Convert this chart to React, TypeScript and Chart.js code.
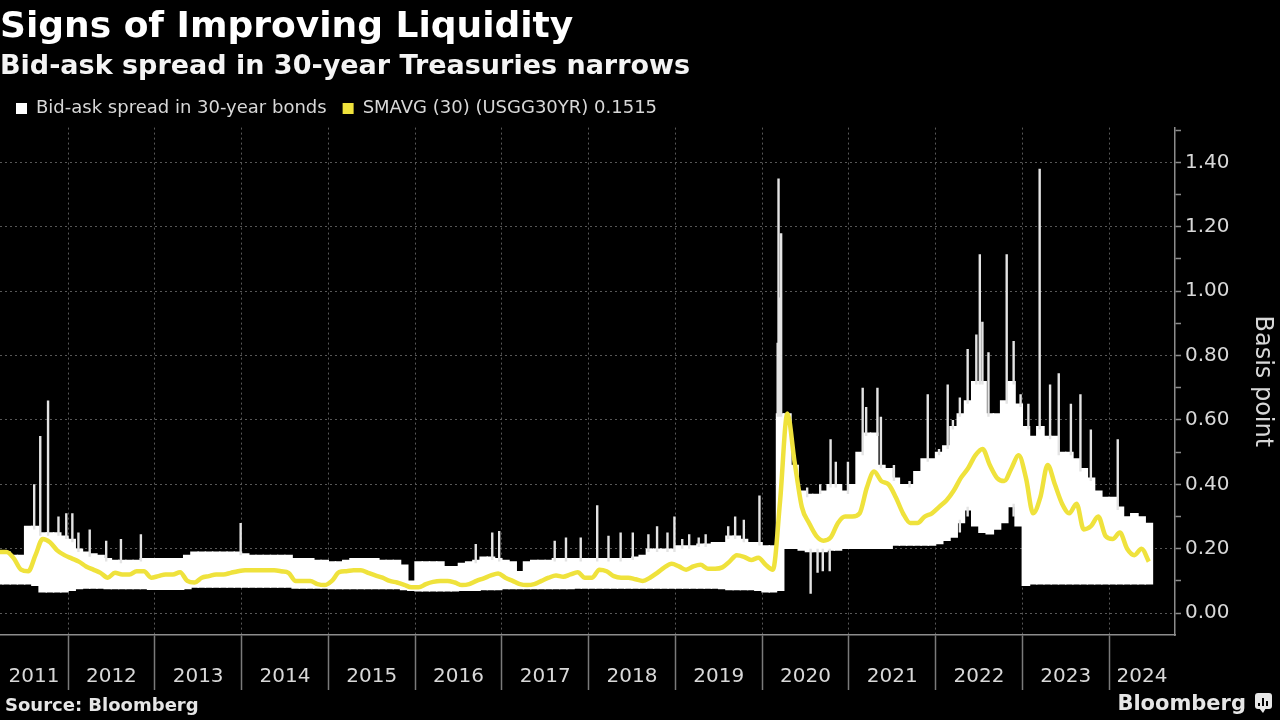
import React, { useEffect, useRef } from 'react';
import { Chart, registerables } from 'chart.js';

Chart.register(...registerables);

// ---------- Texts ----------
const chartTitle = 'Signs of Improving Liquidity';
const chartSubtitle = 'Bid-ask spread in 30-year Treasuries narrows';
const spreadLabel = 'Bid-ask spread in 30-year bonds';
const smaLabel = 'SMAVG (30) (USGG30YR) 0.1515';
const yAxisTitle = 'Basis point';
const sourceText = 'Source: Bloomberg';
const brandText = 'Bloomberg';

// ---------- Axes ----------
const yearLabels = ['2011', '2012', '2013', '2014', '2015', '2016', '2017', '2018', '2019', '2020', '2021', '2022', '2023', '2024'];
const yearBoundaries = [2012, 2013, 2014, 2015, 2016, 2017, 2018, 2019, 2020, 2021, 2022, 2023, 2024];
const yMajorTicks = [0, 0.2, 0.4, 0.6, 0.8, 1.0, 1.2, 1.4];
const yMinorTicks = [0.1, 0.3, 0.5, 0.7, 0.9, 1.1, 1.3, 1.5];
const X_MIN = 2011.216;
const X_MAX = 2024.76;
const Y_MIN = -0.068;
const Y_MAX = 1.508;

// ---------- Monthly series: March 2011 .. June 2024 ----------
const START_YEAR = 2011;
const START_MONTH = 3;

// Daily bid-ask spread, monthly low of the range (basis points)
const spreadLow = [
  // 2011 Mar-Dec
  0.09, 0.09, 0.09, 0.09, 0.09, 0.085, 0.065, 0.065, 0.065, 0.065,
  // 2012
  0.07, 0.075, 0.077, 0.077, 0.077, 0.075, 0.075, 0.075, 0.075, 0.075, 0.075, 0.073,
  // 2013
  0.073, 0.073, 0.073, 0.073, 0.075, 0.08, 0.08, 0.08, 0.08, 0.08, 0.08, 0.08,
  // 2014
  0.08, 0.08, 0.08, 0.08, 0.08, 0.08, 0.08, 0.077, 0.077, 0.077, 0.077, 0.077,
  // 2015
  0.075, 0.075, 0.075, 0.075, 0.075, 0.075, 0.075, 0.075, 0.075, 0.075, 0.072, 0.07,
  // 2016
  0.068, 0.068, 0.068, 0.068, 0.068, 0.068, 0.07, 0.07, 0.07, 0.072, 0.072, 0.072,
  // 2017
  0.075, 0.075, 0.075, 0.075, 0.075, 0.075, 0.075, 0.075, 0.075, 0.075, 0.077, 0.077,
  // 2018
  0.077, 0.077, 0.077, 0.077, 0.077, 0.077, 0.077, 0.077, 0.077, 0.077, 0.077, 0.077,
  // 2019
  0.077, 0.077, 0.077, 0.077, 0.077, 0.077, 0.075, 0.072, 0.072, 0.072, 0.072, 0.07,
  // 2020
  0.065, 0.065, 0.07, 0.2, 0.2, 0.195, 0.19, 0.19, 0.19, 0.195, 0.195, 0.2,
  // 2021
  0.2, 0.2, 0.2, 0.2, 0.2, 0.2, 0.21, 0.21, 0.21, 0.21, 0.21, 0.21,
  // 2022
  0.215, 0.225, 0.235, 0.28, 0.32, 0.27, 0.25, 0.245, 0.26, 0.28, 0.33, 0.27,
  // 2023
  0.085, 0.09, 0.09, 0.09, 0.09, 0.09, 0.09, 0.09, 0.09, 0.09, 0.09, 0.09,
  // 2024 Jan-Jun
  0.09, 0.09, 0.09, 0.09, 0.09, 0.09,
];

// Daily bid-ask spread, monthly typical high of the range
const spreadHigh = [
  // 2011 Mar-Dec
  0.19, 0.19, 0.18, 0.18, 0.27, 0.27, 0.25, 0.25, 0.25, 0.24,
  // 2012
  0.23, 0.2, 0.19, 0.185, 0.18, 0.17, 0.165, 0.165, 0.165, 0.165, 0.17, 0.17,
  // 2013
  0.17, 0.17, 0.17, 0.17, 0.18, 0.19, 0.19, 0.19, 0.19, 0.19, 0.19, 0.19,
  // 2014
  0.185, 0.18, 0.18, 0.18, 0.18, 0.18, 0.18, 0.17, 0.17, 0.17, 0.165, 0.165,
  // 2015
  0.16, 0.16, 0.165, 0.17, 0.17, 0.17, 0.17, 0.165, 0.165, 0.165, 0.15, 0.1,
  // 2016
  0.16, 0.16, 0.16, 0.16, 0.145, 0.145, 0.155, 0.16, 0.165, 0.175, 0.175, 0.17,
  // 2017
  0.165, 0.16, 0.13, 0.16, 0.165, 0.165, 0.165, 0.17, 0.17, 0.17, 0.17, 0.17,
  // 2018
  0.17, 0.17, 0.17, 0.17, 0.17, 0.17, 0.175, 0.18, 0.2, 0.2, 0.2, 0.2,
  // 2019
  0.21, 0.21, 0.21, 0.215, 0.215, 0.22, 0.22, 0.24, 0.24, 0.23, 0.22, 0.22,
  // 2020
  0.21, 0.21, 0.62, 0.62, 0.46, 0.38, 0.37, 0.37, 0.38, 0.4, 0.4, 0.38,
  // 2021
  0.4, 0.5, 0.56, 0.56, 0.46, 0.45, 0.42, 0.4, 0.4, 0.44, 0.48, 0.48,
  // 2022
  0.5, 0.52, 0.58, 0.62, 0.66, 0.72, 0.72, 0.62, 0.62, 0.66, 0.72, 0.65,
  // 2023
  0.58, 0.55, 0.58, 0.55, 0.55, 0.5, 0.5, 0.48, 0.45, 0.42, 0.38, 0.36,
  // 2024 Jan-Jun
  0.36, 0.33, 0.3, 0.31, 0.3, 0.28,
];

// 30-day simple moving average (yellow)
const smavg = [
  // 2011 Mar-Dec
  0.19, 0.19, 0.17, 0.135, 0.13, 0.18, 0.23, 0.22, 0.195, 0.18,
  // 2012
  0.17, 0.16, 0.145, 0.135, 0.125, 0.11, 0.125, 0.12, 0.12, 0.13, 0.13, 0.11,
  // 2013
  0.115, 0.12, 0.12, 0.127, 0.1, 0.095, 0.11, 0.115, 0.12, 0.12, 0.125, 0.13,
  // 2014
  0.133, 0.133, 0.133, 0.133, 0.133, 0.13, 0.125, 0.1, 0.1, 0.1, 0.09, 0.087,
  // 2015
  0.1, 0.127, 0.13, 0.133, 0.133, 0.125, 0.117, 0.11, 0.1, 0.095, 0.088, 0.08,
  // 2016
  0.08, 0.09, 0.097, 0.1, 0.1, 0.095, 0.087, 0.09, 0.1, 0.108, 0.117, 0.123,
  // 2017
  0.11, 0.1, 0.09, 0.087, 0.09, 0.1, 0.11, 0.117, 0.113, 0.12, 0.127, 0.11,
  // 2018
  0.11, 0.135, 0.13, 0.115, 0.11, 0.11, 0.105, 0.1, 0.11, 0.125, 0.142, 0.153,
  // 2019
  0.145, 0.135, 0.145, 0.15, 0.138, 0.138, 0.142, 0.16, 0.18, 0.175, 0.165, 0.172,
  // 2020
  0.15, 0.135, 0.35, 0.62, 0.47, 0.33, 0.28, 0.24, 0.225, 0.235, 0.28, 0.3,
  // 2021
  0.3, 0.31, 0.39, 0.44, 0.41, 0.4, 0.36, 0.31, 0.28, 0.28, 0.3, 0.31,
  // 2022
  0.33, 0.35, 0.38, 0.42, 0.45, 0.49, 0.51, 0.46, 0.42, 0.41, 0.45, 0.49,
  // 2023
  0.42, 0.31, 0.36, 0.46, 0.4, 0.34, 0.31, 0.34, 0.26, 0.27, 0.3, 0.24,
  // 2024 Jan-Jun
  0.23, 0.25, 0.2, 0.18, 0.2, 0.16,
];

// Individual daily extremes outside the usual monthly range (decimal year, low, high)
const spikeDates = [
  2011.61, 2011.68, 2011.77, 2011.89, 2011.98,
  2012.05, 2012.12, 2012.25, 2012.44, 2012.61, 2012.84,
  2013.99,
  2016.7, 2016.89, 2016.97,
  2017.61, 2017.74, 2017.91,
  2018.1, 2018.23, 2018.37, 2018.51, 2018.69, 2018.79, 2018.91, 2018.99,
  2019.08, 2019.16, 2019.27, 2019.35, 2019.61, 2019.69, 2019.79, 2019.97,
  2020.18, 2020.19, 2020.21, 2020.22, 2020.52, 2020.56, 2020.64, 2020.67, 2020.7, 2020.78, 2020.79, 2020.85, 2020.99,
  2021.16, 2021.2, 2021.33, 2021.37, 2021.52, 2021.7, 2021.91,
  2022.04, 2022.14, 2022.2, 2022.28, 2022.37, 2022.44, 2022.47, 2022.51, 2022.54, 2022.61, 2022.82, 2022.9, 2022.98,
  2023.07, 2023.2, 2023.32, 2023.42, 2023.56, 2023.67, 2023.79,
  2024.1,
];
const spikeBottoms = [
  0.1, 0.1, 0.1, 0.1, 0.1,
  0.1, 0.1, 0.1, 0.1, 0.1, 0.1,
  0.1,
  0.1, 0.1, 0.1,
  0.1, 0.1, 0.1,
  0.1, 0.1, 0.1, 0.1, 0.1, 0.1, 0.1, 0.1,
  0.1, 0.1, 0.1, 0.1, 0.1, 0.1, 0.1, 0.1,
  0.1, 0.1, 0.1, 0.1, 0.25, 0.06, 0.125, 0.25, 0.13, 0.13, 0.25, 0.25, 0.25,
  0.25, 0.25, 0.25, 0.25, 0.25, 0.25, 0.25,
  0.25, 0.25, 0.25, 0.25, 0.3, 0.3, 0.3, 0.3, 0.3, 0.3, 0.3, 0.3, 0.3,
  0.1, 0.1, 0.1, 0.1, 0.1, 0.1, 0.1,
  0.1,
];
const spikeTops = [
  0.4, 0.55, 0.66, 0.3, 0.31,
  0.31, 0.25, 0.26, 0.225, 0.23, 0.245,
  0.28,
  0.215, 0.25, 0.255,
  0.225, 0.235, 0.235,
  0.335, 0.24, 0.25, 0.25, 0.245, 0.27, 0.25, 0.3,
  0.23, 0.245, 0.235, 0.245, 0.27, 0.3, 0.29, 0.365,
  0.84, 1.35, 0.98, 1.18, 0.39, 0.2, 0.2, 0.4, 0.2, 0.2, 0.54, 0.47, 0.47,
  0.7, 0.64, 0.7, 0.61, 0.46, 0.41, 0.68,
  0.51, 0.71, 0.6, 0.67, 0.82, 0.7, 0.865, 1.115, 0.905, 0.81, 1.115, 0.845, 0.68,
  0.65, 1.38, 0.71, 0.745, 0.65, 0.68, 0.57,
  0.54,
];

// ---------- Styles ----------
const FONT = "'DejaVu Sans', sans-serif";
const YELLOW = '#efe23c';
const TEXT = '#d8d8d8';
const GRID = '#575757';
const AXIS = '#8c8c8c';

const monthX = (i: number) => START_YEAR + (START_MONTH - 1 + i + 0.5) / 12;
const monthIndexOf = (d: number) =>
  Math.max(0, Math.min(spreadHigh.length - 1, Math.floor((d - START_YEAR) * 12 - (START_MONTH - 1))));
const isMajor = (v: number) => yMajorTicks.some((t) => Math.abs(t - v) < 1e-6);

const decorPlugin = {
  id: 'decor',
  beforeDraw(chart: any) {
    const { ctx, width, height } = chart;
    ctx.save();
    ctx.fillStyle = '#000000';
    ctx.fillRect(0, 0, width, height);
    ctx.restore();
  },
  afterDraw(chart: any) {
    const { ctx, chartArea } = chart;
    const xs = chart.scales.x;
    ctx.save();
    // year labels centred in each visible year band
    ctx.font = `20px ${FONT}`;
    ctx.fillStyle = TEXT;
    ctx.textAlign = 'center';
    ctx.textBaseline = 'middle';
    yearLabels.forEach((lbl) => {
      const a = Math.max(Number(lbl), xs.min);
      const b = Math.min(Number(lbl) + 1, xs.max);
      ctx.fillText(lbl, xs.getPixelForValue((a + b) / 2), chartArea.bottom + 42);
    });
    // source
    ctx.font = `bold 18px ${FONT}`;
    ctx.fillStyle = '#e6e6e6';
    ctx.textAlign = 'left';
    ctx.fillText(sourceText, 5, 706);
    // brand
    ctx.font = `bold 21px ${FONT}`;
    ctx.textAlign = 'right';
    ctx.fillText(brandText, 1246, 705);
    // brand icon
    ctx.fillStyle = '#e6e6e6';
    ctx.beginPath();
    ctx.roundRect(1255, 693, 17, 16, 3);
    ctx.fill();
    ctx.beginPath();
    ctx.moveTo(1259, 708);
    ctx.lineTo(1263, 713);
    ctx.lineTo(1266, 708);
    ctx.fill();
    ctx.fillStyle = '#000';
    ctx.fillRect(1258, 703, 2, 3);
    ctx.fillRect(1262, 698, 2, 8);
    ctx.fillRect(1266, 701, 2, 5);
    ctx.restore();
  },
};

export default function App() {
  const canvasRef = useRef<HTMLCanvasElement | null>(null);

  useEffect(() => {
    if (!canvasRef.current) return;
    Chart.defaults.font.family = FONT;
    const bandData = spreadLow.map((lo, i) => ({ x: monthX(i), y: [lo, spreadHigh[i]] }));
    const smaData = smavg.map((v, i) => ({ x: monthX(i), y: v }));
    // each extreme: the part of the day's range that sticks out of the monthly band
    const spikeData: any[] = [];
    spikeDates.forEach((d, i) => {
      const m = monthIndexOf(d);
      const lo = spreadLow[m];
      const hi = spreadHigh[m];
      const b = spikeBottoms[i];
      const t = spikeTops[i];
      if (t > hi) spikeData.push({ x: d, y: Math.max(b, hi - 0.01) }, { x: d, y: t }, { x: d, y: null });
      if (b < lo) spikeData.push({ x: d, y: b }, { x: d, y: Math.min(t, lo + 0.01) }, { x: d, y: null });
    });

    const chart = new Chart(canvasRef.current, {
      type: 'bar',
      data: {
        datasets: [
          {
            type: 'bar',
            label: spreadLabel,
            data: bandData as any,
            backgroundColor: '#ffffff',
            borderWidth: 0,
            barThickness: 8,
            order: 2,
          } as any,
          {
            type: 'line',
            label: smaLabel,
            data: smaData as any,
            borderColor: YELLOW,
            backgroundColor: YELLOW,
            borderWidth: 4.5,
            pointRadius: 0,
            cubicInterpolationMode: 'monotone',
            order: 0,
          } as any,
          {
            type: 'line',
            label: 'spikes',
            data: spikeData,
            borderColor: '#e4e4e4',
            backgroundColor: '#e4e4e4',
            borderWidth: 2.4,
            pointRadius: 0,
            spanGaps: false,
            order: 1,
          } as any,
        ],
      },
      options: {
        responsive: false,
        animation: false,
        events: [],
        layout: { padding: 0 },
        plugins: {
          title: {
            display: true,
            text: chartTitle,
            align: 'start',
            color: '#ffffff',
            font: { family: FONT, size: 36, weight: 'bold' },
            padding: { top: 6, bottom: 0 },
          },
          subtitle: {
            display: true,
            text: chartSubtitle,
            align: 'start',
            color: '#f4f4f4',
            font: { family: FONT, size: 27, weight: 'bold' },
            padding: { top: 2, bottom: 0 },
          },
          legend: {
            display: true,
            position: 'top',
            align: 'start',
            labels: {
              color: TEXT,
              font: { family: FONT, size: 18 },
              boxWidth: 11,
              boxHeight: 11,
              padding: 16,
              filter: (item: any) => item.datasetIndex !== 2,
              sort: (a: any, b: any) => a.datasetIndex - b.datasetIndex,
              generateLabels: (c: any) =>
                (Chart.defaults.plugins.legend.labels.generateLabels as any)(c).map((l: any) => ({
                  ...l,
                  lineWidth: 0,
                })),
            },
          },
          tooltip: { enabled: false },
        },
        scales: {
          x: {
            type: 'linear',
            min: X_MIN,
            max: X_MAX,
            offset: false,
            afterBuildTicks: (s: any) => {
              s.ticks = yearBoundaries.map((v) => ({ value: v }));
            },
            afterFit: (s: any) => {
              s.height = 85;
            },
            ticks: { display: false },
            grid: {
              display: true,
              offset: false,
              color: GRID,
              lineWidth: 1,
              drawTicks: true,
              tickLength: 55,
              tickColor: '#7a7a7a',
              tickWidth: 1.5,
              tickBorderDash: [],
            },
            border: { display: true, color: AXIS, width: 1.5, dash: [2, 3] },
          },
          y: {
            type: 'linear',
            position: 'right',
            min: Y_MIN,
            max: Y_MAX,
            afterBuildTicks: (s: any) => {
              s.ticks = [...yMajorTicks, ...yMinorTicks].sort((a, b) => a - b).map((v) => ({ value: v }));
            },
            afterFit: (s: any) => {
              s.width = 105;
            },
            ticks: {
              color: TEXT,
              font: { family: FONT, size: 20 },
              padding: 4,
              autoSkip: false,
              callback: (v: any) => (isMajor(Number(v)) ? Number(v).toFixed(2) : ''),
            },
            grid: {
              color: (ctx: any) => (ctx.tick && isMajor(ctx.tick.value) ? GRID : 'rgba(0,0,0,0)'),
              lineWidth: 1,
              drawTicks: true,
              tickLength: 6,
              tickColor: AXIS,
              tickWidth: 1.5,
              tickBorderDash: [],
            },
            border: { display: true, color: AXIS, width: 1.5, dash: [2, 3] },
            title: {
              display: true,
              text: yAxisTitle,
              color: TEXT,
              font: { family: FONT, size: 24 },
              padding: { top: 3, bottom: 0 },
            },
          },
        },
      },
      plugins: [decorPlugin],
    } as any);

    return () => chart.destroy();
  }, []);

  return (
    <div style={{ position: 'fixed', left: 0, top: 0, width: 1280, height: 720, background: '#000' }}>
      <canvas ref={canvasRef} width={1280} height={720} style={{ display: 'block' }} />
    </div>
  );
}
